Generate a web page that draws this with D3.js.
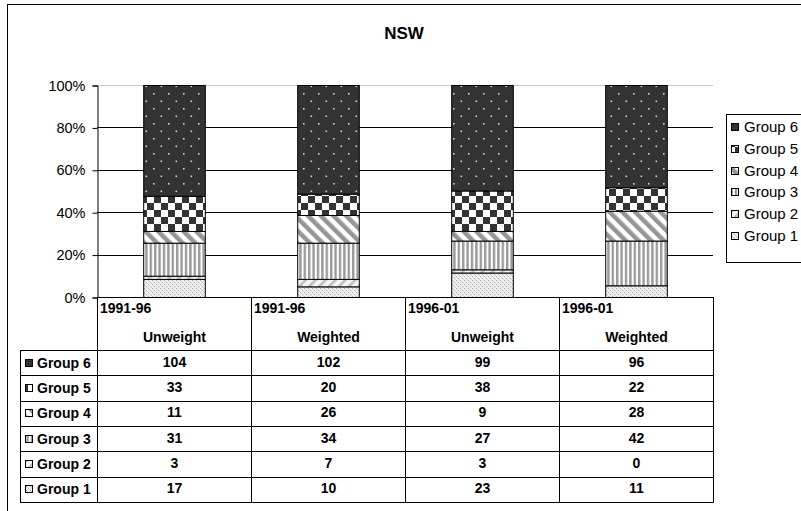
<!DOCTYPE html>
<html>
<head>
<meta charset="utf-8">
<script src="https://cdn.jsdelivr.net/npm/d3@7"></script>
<style>
  html, body { margin: 0; padding: 0; background: #fff; }
  svg { display: block; font-family: "Liberation Sans", Arial, sans-serif; }
</style>
</head>
<body>
<svg id="chart" width="801" height="511"></svg>
<script>
// NSW: share of each group per period, unweighted vs weighted counts
const periods = ["1991-96", "1991-96", "1996-01", "1996-01"];
const weighting = ["Unweight", "Weighted", "Unweight", "Weighted"];
const groupNames = ["Group 1", "Group 2", "Group 3", "Group 4", "Group 5", "Group 6"];
const group1 = [17, 10, 23, 11];
const group2 = [3, 7, 3, 0];
const group3 = [31, 34, 27, 42];
const group4 = [11, 26, 9, 28];
const group5 = [33, 20, 38, 22];
const group6 = [104, 102, 99, 96];
const yTickValues = [0, 0.2, 0.4, 0.6, 0.8, 1];

const seriesValues = [group1, group2, group3, group4, group5, group6];
const rows = periods.map((p, i) => {
  const r = { idx: i };
  groupNames.forEach((g, k) => { r[g] = seriesValues[k][i]; });
  return r;
});

const svg = d3.select("#chart");
const defs = svg.append("defs");

// Fill patterns, one per group
function pat(id, w, h, build, transform) {
  const p = defs.append("pattern").attr("id", id)
    .attr("patternUnits", "userSpaceOnUse").attr("width", w).attr("height", h);
  if (transform) p.attr("patternTransform", transform);
  build(p);
}
pat("p1", 4, 4, p => {
  p.append("rect").attr("width", 4).attr("height", 4).attr("fill", "#f0f0f0");
  p.append("rect").attr("x", 0).attr("y", 0).attr("width", 1).attr("height", 1).attr("fill", "#b0b0b0");
  p.append("rect").attr("x", 2).attr("y", 2).attr("width", 1).attr("height", 1).attr("fill", "#b0b0b0");
  p.append("rect").attr("x", 1).attr("y", 1).attr("width", 1).attr("height", 1).attr("fill", "#d0d0d0");
  p.append("rect").attr("x", 3).attr("y", 3).attr("width", 1).attr("height", 1).attr("fill", "#d0d0d0");
});
pat("p2", 7, 7, p => {
  p.append("rect").attr("width", 7).attr("height", 7).attr("fill", "#f4f4f4");
  p.append("rect").attr("width", 2.5).attr("height", 7).attr("fill", "#bdbdbd");
}, "rotate(45)");
pat("p3", 4.4, 4, p => {
  p.append("rect").attr("width", 4.4).attr("height", 4).attr("fill", "#fff");
  p.append("rect").attr("width", 2.4).attr("height", 4).attr("fill", "#9a9a9a");
});
pat("p4", 9, 9, p => {
  p.append("rect").attr("width", 9).attr("height", 9).attr("fill", "#fff");
  p.append("rect").attr("width", 4.5).attr("height", 9).attr("fill", "#969696");
}, "rotate(-45)");
pat("p5", 14, 14, p => {
  p.append("rect").attr("width", 14).attr("height", 14).attr("fill", "#fff");
  p.append("rect").attr("x", 0).attr("y", 0).attr("width", 7).attr("height", 7).attr("fill", "#333");
  p.append("rect").attr("x", 7).attr("y", 7).attr("width", 7).attr("height", 7).attr("fill", "#333");
});
pat("p6", 15, 15, p => {
  p.append("rect").attr("width", 15).attr("height", 15).attr("fill", "#333");
  p.append("rect").attr("x", 3).attr("y", 3).attr("width", 1.6).attr("height", 1.6).attr("fill", "#d0d0d0");
  p.append("rect").attr("x", 10.5).attr("y", 10.5).attr("width", 1.6).attr("height", 1.6).attr("fill", "#d0d0d0");
});
const fills = groupNames.map((g, k) => `url(#p${k + 1})`);

// Outer chart frame
svg.append("rect").attr("x", 7.5).attr("y", 4.5).attr("width", 820).attr("height", 520)
  .attr("fill", "none").attr("stroke", "#000");

// Title
svg.append("text").attr("x", 404).attr("y", 39).attr("text-anchor", "middle")
  .attr("font-size", 17).attr("font-weight", "bold").text("NSW");

// Scales
const plotLeft = 97, plotRight = 713;
const x = d3.scaleBand().domain(d3.range(periods.length)).range([plotLeft, plotRight])
  .paddingInner(0.6).paddingOuter(0.3);
const y = d3.scaleLinear().domain([0, 1]).range([297, 85]);
const step = x.step();

// Gridlines
svg.append("g").selectAll("line").data(yTickValues.filter(v => v > 0)).join("line")
  .attr("x1", plotLeft).attr("x2", plotRight)
  .attr("y1", d => Math.round(y(d)) + 0.5).attr("y2", d => Math.round(y(d)) + 0.5)
  .attr("stroke", d => d === 1 ? "#c8c8c8" : "#000").attr("stroke-width", 1);

// Y axis
const yAxis = d3.axisLeft(y).tickValues(yTickValues).tickFormat(d3.format(".0%")).tickSize(5).tickPadding(7);
const gy = svg.append("g").attr("transform", `translate(${plotLeft + 0.5},0.5)`).call(yAxis);
gy.select(".domain").attr("stroke", "#000");
gy.selectAll(".tick line").attr("stroke", "#000");
gy.selectAll(".tick text").attr("font-size", 14.5).attr("font-family", "Liberation Sans, Arial, sans-serif").attr("fill", "#000");

// Stacked 100% bars
const stack = d3.stack().keys(groupNames).offset(d3.stackOffsetExpand);
const layers = stack(rows);
svg.append("g").selectAll("g").data(layers).join("g")
  .attr("fill", (d, k) => fills[k])
  .selectAll("rect").data(d => d).join("rect")
  .attr("x", d => x(d.data.idx) + 0.5)
  .attr("width", x.bandwidth())
  .attr("y", d => y(d[1]) + 0.5)
  .attr("height", d => Math.max(0, y(d[0]) - y(d[1])))
  .attr("stroke", "#000").attr("stroke-width", 1);

// Data table beneath the plot
const tableTop = 297, headerH = 53, rowH = 25.3, labelLeft = 20;
const tableRows = groupNames.slice().reverse();
const tableBottom = tableTop + headerH + rowH * tableRows.length;
const tbl = svg.append("g").attr("stroke", "#000").attr("stroke-width", 1);
const colEdges = d3.range(periods.length + 1).map(i => plotLeft + i * step);
// vertical lines for category columns
tbl.selectAll("line.v").data(colEdges).join("line").attr("class", "v")
  .attr("x1", d => Math.round(d) + 0.5).attr("x2", d => Math.round(d) + 0.5)
  .attr("y1", tableTop).attr("y2", Math.round(tableBottom) + 0.5);
// label column left edge
tbl.append("line").attr("x1", labelLeft + 0.5).attr("x2", labelLeft + 0.5)
  .attr("y1", tableTop + headerH).attr("y2", Math.round(tableBottom) + 0.5);
// top line of the table
tbl.append("line").attr("x1", plotLeft).attr("x2", Math.round(plotRight) + 0.5)
  .attr("y1", tableTop + 0.5).attr("y2", tableTop + 0.5);
// row separators
const rowLines = d3.range(tableRows.length + 1).map(i => tableTop + headerH + i * rowH);
tbl.selectAll("line.h").data(rowLines).join("line").attr("class", "h")
  .attr("x1", labelLeft).attr("x2", Math.round(plotRight) + 0.5)
  .attr("y1", d => Math.round(d) + 0.5).attr("y2", d => Math.round(d) + 0.5);

// header texts
const hdr = svg.append("g").attr("font-size", 14).attr("font-weight", "bold").attr("fill", "#000");
hdr.selectAll("text.per").data(periods).join("text").attr("class", "per")
  .attr("x", (d, i) => colEdges[i] + 3).attr("y", tableTop + 16).text(d => d);
hdr.selectAll("text.wt").data(weighting).join("text").attr("class", "wt")
  .attr("x", (d, i) => x(i) + x.bandwidth() / 2 + 0.5).attr("y", tableTop + 45)
  .attr("text-anchor", "middle").text(d => d);

// row labels with swatches and values
const body = svg.append("g").attr("font-size", 14).attr("font-weight", "bold").attr("fill", "#000");
tableRows.forEach((g, r) => {
  const k = groupNames.indexOf(g);
  const cy = tableTop + headerH + r * rowH + rowH / 2;
  body.append("rect").attr("x", 25.5).attr("y", Math.round(cy - 4) + 0.5).attr("width", 7).attr("height", 7)
    .attr("fill", fills[k]).attr("stroke", "#000").attr("stroke-width", 1);
  body.append("text").attr("x", 37).attr("y", cy + 5).text(g);
  body.selectAll(null).data(seriesValues[k]).join("text")
    .attr("x", (d, i) => x(i) + x.bandwidth() / 2 + 0.5).attr("y", cy + 4)
    .attr("text-anchor", "middle").text(d => d);
});

// Legend
const legend = svg.append("g");
legend.append("rect").attr("x", 726.5).attr("y", 114.5).attr("width", 100).attr("height", 148)
  .attr("fill", "#fff").attr("stroke", "#000");
groupNames.slice().reverse().forEach((g, r) => {
  const k = groupNames.indexOf(g);
  const cy = 127 + r * 21.8;
  legend.append("rect").attr("x", 731.5).attr("y", Math.round(cy - 4) + 0.5).attr("width", 7).attr("height", 7)
    .attr("fill", fills[k]).attr("stroke", "#000");
  legend.append("text").attr("x", 744).attr("y", cy + 5).attr("font-size", 15).text(g);
});
</script>
</body>
</html>
